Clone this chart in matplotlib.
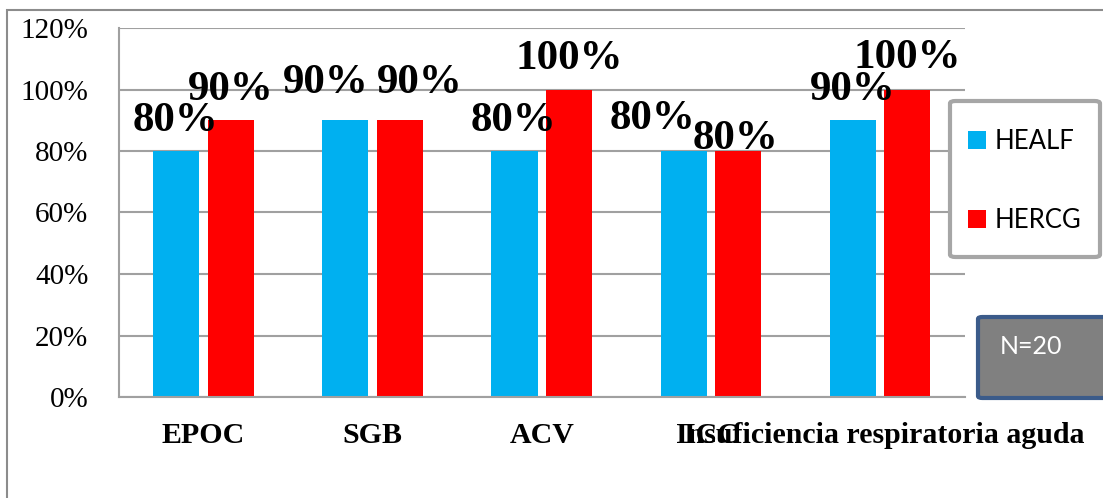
import matplotlib.pyplot as plt
from matplotlib.patches import Rectangle, FancyBboxPatch
from matplotlib.ticker import PercentFormatter
import numpy as np

# categories and the two series (fractions)
categorias = ['EPOC', 'SGB', 'ACV', 'ICC', 'Insuficiencia respiratoria aguda']
healf = [0.8, 0.9, 0.8, 0.8, 0.9]
hercg = [0.9, 0.9, 1.0, 0.8, 1.0]
muestra = 'N=20'

# label nudges in pixels (dx, dy above bar top)
shift_healf = [(-1, 20), (-20, 27), (-1, 20), (-31, 22), (0, 20)]
shift_hercg = [(0, 20), (20, 27), (0, 21), (-3, 2), (0, 22)]

azul = '#00B0F0'
rojo = '#FF0000'
gris = '#A0A0A0'
serif = ['Liberation Serif', 'DejaVu Serif']

fig = plt.figure(figsize=(11.03, 4.98), dpi=100)
ax = fig.add_axes([119/1103, 101/498, 846/1103, 369/498])

x = np.arange(len(categorias))
w = 0.272
b1 = ax.bar(x - 0.1625, healf, w, color=azul, label='HEALF', zorder=2)
b2 = ax.bar(x + 0.16, hercg, w, color=rojo, label='HERCG', zorder=2)

# value labels over the bars
for bars, vals, shifts in [(b1, healf, shift_healf), (b2, hercg, shift_hercg)]:
	for r, v, (dx, dy) in zip(bars, vals, shifts):
		ax.annotate(f'{v:.0%}', (r.get_x() + r.get_width()/2, v),
					xytext=(dx, dy), textcoords='offset pixels',
					ha='center', va='baseline', fontsize=31,
					fontweight='bold', family=serif, zorder=5,
					annotation_clip=False)

ax.set_xlim(-0.5, len(categorias) - 0.5)
ax.set_ylim(0, 1.2)
ax.set_yticks(np.arange(0, 1.21, 0.2))
ax.yaxis.set_major_formatter(PercentFormatter(1.0, decimals=0))
ax.set_xticks(x)
ax.set_xticklabels(categorias, fontsize=21.5, fontweight='bold', family=serif)
for t in ax.get_yticklabels():
	t.set_family(serif)
	t.set_fontsize(21)
ax.tick_params(axis='y', length=0, pad=22)
ax.tick_params(axis='x', length=0, pad=18)

ax.grid(axis='y', color=gris, linewidth=1.5, zorder=0)
ax.set_axisbelow(True)
for s in ['top', 'right']:
	ax.spines[s].set_visible(False)
for s in ['left', 'bottom']:
	ax.spines[s].set_color(gris)
	ax.spines[s].set_linewidth(1.5)

# legend on the right, frame drawn separately underneath it
fig.patches.append(FancyBboxPatch((950/1103, 1 - 257/498), 150/1103, 156/498,
								boxstyle='round,pad=0,rounding_size=0.005',
								transform=fig.transFigure, facecolor='white',
								edgecolor='#A6A6A6', linewidth=3, zorder=3))
leg = fig.legend(handles=[b1, b2], loc='center left',
				 bbox_to_anchor=(968/1103, 1 - 181/498), frameon=False,
				 prop={'family': 'Lato', 'size': 18.5},
				 handlelength=0.7, handleheight=0.7, handletextpad=0.35,
				 labelspacing=2.12, borderpad=0, borderaxespad=0)
leg.set_zorder(5)

# sample size box
fig.patches.append(FancyBboxPatch((978/1103, 1 - 398/498), 140/1103, 81/498,
								boxstyle='round,pad=0,rounding_size=0.004',
								transform=fig.transFigure, facecolor='#808080',
								edgecolor='#3B5B8A', linewidth=3, zorder=3))
fig.text(1000/1103, 1 - 347/498, muestra, color='white', family='Lato',
		 fontsize=18, va='center', ha='left', zorder=5)

# outer chart border
fig.patches.append(Rectangle((7/1103, -0.1), 1.2, 1 - 10/498 + 0.1,
							 transform=fig.transFigure, fill=False,
							 edgecolor='#8C8C8C', linewidth=1.5))

fig.savefig('out.png', dpi=100)
